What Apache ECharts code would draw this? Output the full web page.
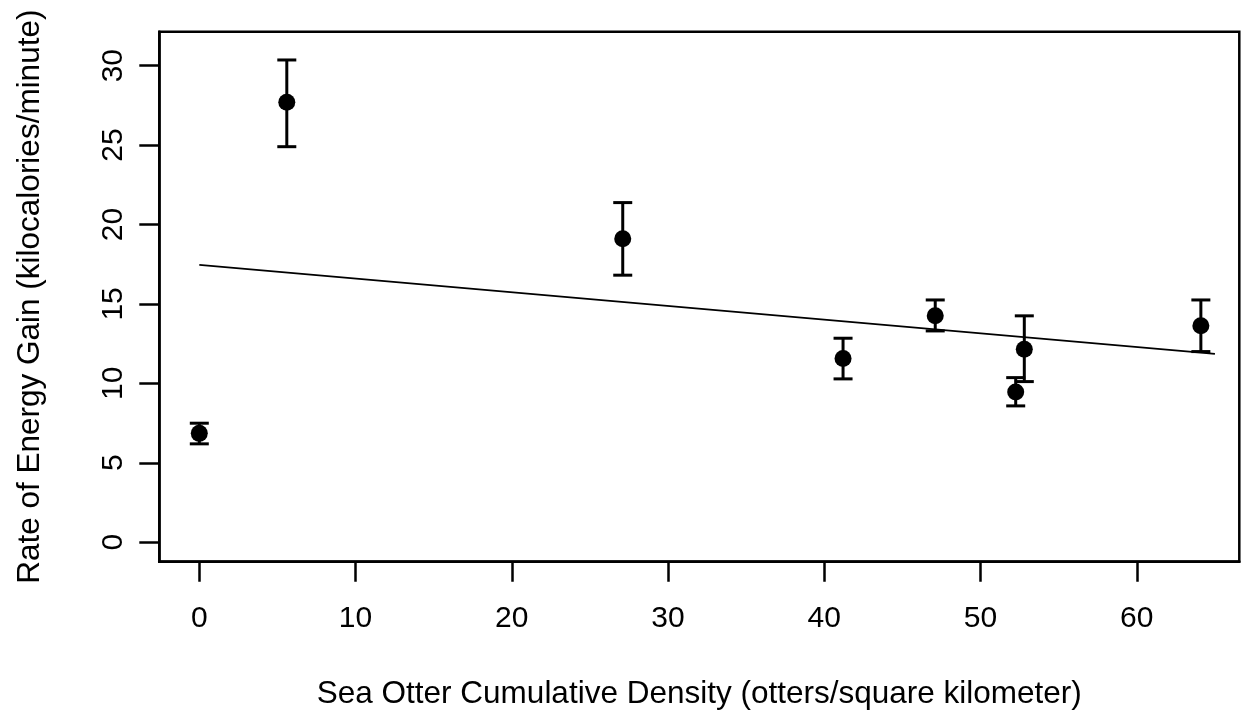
<!DOCTYPE html>
<html><head><meta charset="utf-8">
<script src="https://cdn.jsdelivr.net/npm/echarts@6/dist/echarts.min.js"></script>
<style>html,body{margin:0;padding:0;background:#fff}#c{width:1241px;height:719px}</style>
</head><body><div id="c"></div>
<script>
const density = [0, 5.6, 27.1, 41.2, 47.1, 52.8, 52.25, 64.1];
const energyGain = [6.85, 27.7, 19.1, 11.56, 14.26, 12.15, 9.46, 13.63];
const errLow = [6.19, 24.9, 16.81, 10.28, 13.30, 10.11, 8.58, 12.0];
const errHigh = [7.49, 30.36, 21.38, 12.84, 15.25, 14.25, 10.36, 15.25];
const fitLine = [[0, 17.46], [65, 11.85]];
const xTicks = [0, 10, 20, 30, 40, 50, 60];
const yTicks = [0, 5, 10, 15, 20, 25, 30];

const FONT = 'Liberation Sans';
const chart = echarts.init(document.getElementById('c'), null, {renderer: 'canvas'});
const errData = density.map((x, i) => [x, errLow[i], errHigh[i]]);
const points = density.map((x, i) => [x, energyGain[i]]);

chart.setOption({
  animation: false,
  backgroundColor: '#fff',
  grid: {left: 159.3, right: 1.7, top: 31.7, bottom: 157.3, show: true,
         borderColor: '#000', borderWidth: 2.5, backgroundColor: 'transparent'},
  xAxis: {
    type: 'value', min: -2.56, max: 66.56,
    name: 'Sea Otter Cumulative Density (otters/square kilometer)',
    nameLocation: 'middle', nameGap: 117,
    nameTextStyle: {fontFamily: FONT, fontSize: 31.5, color: '#000'},
    axisLine: {show: true, onZero: false, lineStyle: {color: '#000', width: 2.5}},
    axisTick: {show: true, inside: false, length: 20, customValues: xTicks,
               lineStyle: {color: '#000', width: 2.5}},
    axisLabel: {customValues: xTicks, margin: 42, fontFamily: FONT, fontSize: 30, color: '#000'},
    splitLine: {show: false}
  },
  yAxis: {
    type: 'value', min: -1.23, max: 32.14,
    name: 'Rate of Energy Gain (kilocalories/minute)',
    nameLocation: 'middle', nameGap: 113,
    nameTextStyle: {fontFamily: FONT, fontSize: 31.5, color: '#000'},
    axisLine: {show: true, onZero: false, lineStyle: {color: '#000', width: 2.5}},
    axisTick: {show: true, inside: false, length: 20, customValues: yTicks,
               lineStyle: {color: '#000', width: 2.5}},
    axisLabel: {customValues: yTicks, rotate: 90, margin: 31, fontFamily: FONT, fontSize: 30, color: '#000'},
    splitLine: {show: false}
  },
  series: [
    {
      type: 'line', data: fitLine, symbol: 'none', silent: true,
      lineStyle: {color: '#000', width: 1.8}
    },
    {
      type: 'custom', data: errData, silent: true,
      renderItem: function (params, api) {
        const x = api.value(0);
        const lo = api.coord([x, api.value(1)]);
        const hi = api.coord([x, api.value(2)]);
        const hw = 9.5;
        const style = {stroke: '#000', lineWidth: 3};
        return {type: 'group', children: [
          {type: 'line', shape: {x1: lo[0], y1: lo[1], x2: hi[0], y2: hi[1]}, style: style},
          {type: 'line', shape: {x1: lo[0] - hw, y1: lo[1], x2: lo[0] + hw, y2: lo[1]}, style: style},
          {type: 'line', shape: {x1: hi[0] - hw, y1: hi[1], x2: hi[0] + hw, y2: hi[1]}, style: style}
        ]};
      },
      z: 3
    },
    {
      type: 'scatter', data: points, symbol: 'circle', symbolSize: 17, silent: true,
      itemStyle: {color: '#000', opacity: 1}, z: 4
    }
  ]
});
</script></body></html>
